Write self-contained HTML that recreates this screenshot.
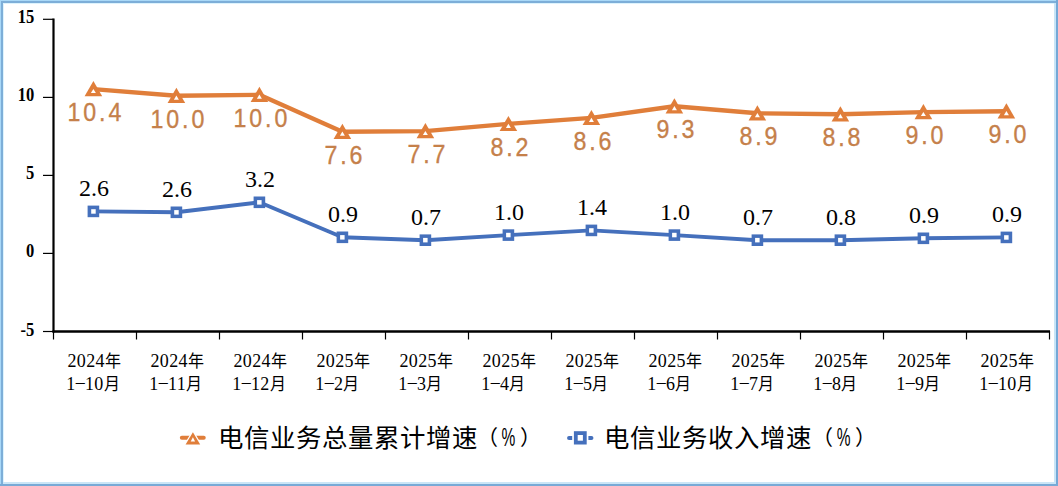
<!DOCTYPE html>
<html lang="zh-CN"><head><meta charset="utf-8">
<style>
html,body{margin:0;padding:0;background:#fff;}
body{width:1058px;height:486px;overflow:hidden;position:relative;}
svg{position:absolute;left:0;top:0;}
.yl{font-family:"Liberation Serif",serif;font-weight:bold;font-size:17.6px;text-anchor:end;fill:#000;}
.bl{font-family:"Liberation Serif",serif;font-size:24px;text-anchor:middle;fill:#000;}
.ol{font-family:"Liberation Sans",sans-serif;font-size:25.8px;text-anchor:middle;fill:#C5804A;letter-spacing:3.2px;stroke:#C5804A;stroke-width:0.35px;}
.xl{font-family:"Liberation Serif",serif;font-size:18px;letter-spacing:0.35px;fill:#000;font-weight:300;}
.xc{font-size:16px;}
.lg{font-family:"Liberation Sans",sans-serif;font-size:25.4px;fill:#000;font-weight:300;}
.lp{font-family:"Liberation Sans",sans-serif;font-size:21px;fill:#000;font-weight:300;}
.pc{font-family:"Liberation Sans",sans-serif;font-size:25px;fill:#000;font-weight:300;}
</style></head><body>
<svg width="1058" height="486" viewBox="0 0 1058 486">
<line x1="53.5" y1="18.5" x2="53.5" y2="332.5" stroke="#000" stroke-width="2.2"/>
<line x1="52.5" y1="331.5" x2="1050" y2="331.5" stroke="#000" stroke-width="2.4"/>
<line x1="43" y1="19.3" x2="53.5" y2="19.3" stroke="#000" stroke-width="1.2"/>
<text transform="translate(34.3,23.3) scale(0.94,1.08)" class="yl">15</text>
<line x1="43" y1="97.4" x2="53.5" y2="97.4" stroke="#000" stroke-width="1.2"/>
<text transform="translate(34.3,101.4) scale(0.94,1.08)" class="yl">10</text>
<line x1="43" y1="175.4" x2="53.5" y2="175.4" stroke="#000" stroke-width="1.2"/>
<text transform="translate(34.3,179.4) scale(0.94,1.08)" class="yl">5</text>
<line x1="43" y1="253.4" x2="53.5" y2="253.4" stroke="#000" stroke-width="1.2"/>
<text transform="translate(34.3,257.4) scale(0.94,1.08)" class="yl">0</text>
<line x1="43" y1="331.5" x2="53.5" y2="331.5" stroke="#000" stroke-width="1.2"/>
<text transform="translate(34.3,335.5) scale(0.94,1.08)" class="yl">-5</text>
<line x1="53.5" y1="331" x2="53.5" y2="339.5" stroke="#000" stroke-width="1.2"/>
<line x1="136.5" y1="331" x2="136.5" y2="339.5" stroke="#000" stroke-width="1.2"/>
<line x1="219.5" y1="331" x2="219.5" y2="339.5" stroke="#000" stroke-width="1.2"/>
<line x1="302.5" y1="331" x2="302.5" y2="339.5" stroke="#000" stroke-width="1.2"/>
<line x1="385.5" y1="331" x2="385.5" y2="339.5" stroke="#000" stroke-width="1.2"/>
<line x1="468.5" y1="331" x2="468.5" y2="339.5" stroke="#000" stroke-width="1.2"/>
<line x1="551.5" y1="331" x2="551.5" y2="339.5" stroke="#000" stroke-width="1.2"/>
<line x1="634.5" y1="331" x2="634.5" y2="339.5" stroke="#000" stroke-width="1.2"/>
<line x1="717.5" y1="331" x2="717.5" y2="339.5" stroke="#000" stroke-width="1.2"/>
<line x1="800.5" y1="331" x2="800.5" y2="339.5" stroke="#000" stroke-width="1.2"/>
<line x1="883.5" y1="331" x2="883.5" y2="339.5" stroke="#000" stroke-width="1.2"/>
<line x1="966.5" y1="331" x2="966.5" y2="339.5" stroke="#000" stroke-width="1.2"/>
<line x1="1049.5" y1="331" x2="1049.5" y2="339.5" stroke="#000" stroke-width="1.2"/>
<polyline points="93.4,89.1 176.4,95.8 259.4,94.8 342.4,131.8 425.4,131.1 508.4,123.9 591.4,117.9 674.4,106.3 757.4,113.3 840.4,114.2 923.4,112.1 1006.4,111.2" fill="none" stroke="#E07E3A" stroke-width="4.4" stroke-linejoin="round"/>
<polyline points="93.4,211.4 176.4,212.3 259.4,202.3 342.4,237.3 425.4,240.2 508.4,235.1 591.4,230.4 674.4,235.1 757.4,240.2 840.4,240.2 923.4,238.3 1006.4,237.4" fill="none" stroke="#4570BC" stroke-width="3.9" stroke-linejoin="round"/>
<path d="M93.4,81.1 L102.2,96.3 L84.6,96.3 Z" fill="#E07E3A" /><path d="M93.4,88.9 L95.9,93.1 L90.9,93.1 Z" fill="#fff"/>
<path d="M176.4,87.8 L185.2,103.0 L167.6,103.0 Z" fill="#E07E3A" /><path d="M176.4,95.6 L178.9,99.8 L173.9,99.8 Z" fill="#fff"/>
<path d="M259.4,86.8 L268.2,102.0 L250.6,102.0 Z" fill="#E07E3A" /><path d="M259.4,94.6 L261.9,98.8 L256.9,98.8 Z" fill="#fff"/>
<path d="M342.4,123.8 L351.2,139.0 L333.6,139.0 Z" fill="#E07E3A" /><path d="M342.4,131.6 L344.9,135.8 L339.9,135.8 Z" fill="#fff"/>
<path d="M425.4,123.1 L434.2,138.3 L416.6,138.3 Z" fill="#E07E3A" /><path d="M425.4,130.9 L427.9,135.1 L422.9,135.1 Z" fill="#fff"/>
<path d="M508.4,115.9 L517.2,131.1 L499.6,131.1 Z" fill="#E07E3A" /><path d="M508.4,123.7 L510.9,127.9 L505.9,127.9 Z" fill="#fff"/>
<path d="M591.4,109.9 L600.2,125.1 L582.6,125.1 Z" fill="#E07E3A" /><path d="M591.4,117.7 L593.9,121.9 L588.9,121.9 Z" fill="#fff"/>
<path d="M674.4,98.3 L683.2,113.5 L665.6,113.5 Z" fill="#E07E3A" /><path d="M674.4,106.1 L676.9,110.3 L671.9,110.3 Z" fill="#fff"/>
<path d="M757.4,105.3 L766.2,120.5 L748.6,120.5 Z" fill="#E07E3A" /><path d="M757.4,113.1 L759.9,117.3 L754.9,117.3 Z" fill="#fff"/>
<path d="M840.4,106.2 L849.2,121.4 L831.6,121.4 Z" fill="#E07E3A" /><path d="M840.4,114.0 L842.9,118.2 L837.9,118.2 Z" fill="#fff"/>
<path d="M923.4,104.1 L932.2,119.3 L914.6,119.3 Z" fill="#E07E3A" /><path d="M923.4,111.9 L925.9,116.1 L920.9,116.1 Z" fill="#fff"/>
<path d="M1006.4,103.2 L1015.2,118.4 L997.6,118.4 Z" fill="#E07E3A" /><path d="M1006.4,111.0 L1008.9,115.2 L1003.9,115.2 Z" fill="#fff"/>
<rect x="87.6" y="205.6" width="11.6" height="11.6" fill="#4570BC"/>
<rect x="91.2" y="209.2" width="4.5" height="4.5" fill="#fff"/>
<rect x="170.6" y="206.5" width="11.6" height="11.6" fill="#4570BC"/>
<rect x="174.2" y="210.1" width="4.5" height="4.5" fill="#fff"/>
<rect x="253.6" y="196.5" width="11.6" height="11.6" fill="#4570BC"/>
<rect x="257.1" y="200.1" width="4.5" height="4.5" fill="#fff"/>
<rect x="336.6" y="231.5" width="11.6" height="11.6" fill="#4570BC"/>
<rect x="340.1" y="235.1" width="4.5" height="4.5" fill="#fff"/>
<rect x="419.6" y="234.4" width="11.6" height="11.6" fill="#4570BC"/>
<rect x="423.1" y="237.9" width="4.5" height="4.5" fill="#fff"/>
<rect x="502.6" y="229.3" width="11.6" height="11.6" fill="#4570BC"/>
<rect x="506.1" y="232.8" width="4.5" height="4.5" fill="#fff"/>
<rect x="585.6" y="224.6" width="11.6" height="11.6" fill="#4570BC"/>
<rect x="589.1" y="228.2" width="4.5" height="4.5" fill="#fff"/>
<rect x="668.6" y="229.3" width="11.6" height="11.6" fill="#4570BC"/>
<rect x="672.1" y="232.8" width="4.5" height="4.5" fill="#fff"/>
<rect x="751.6" y="234.4" width="11.6" height="11.6" fill="#4570BC"/>
<rect x="755.1" y="237.9" width="4.5" height="4.5" fill="#fff"/>
<rect x="834.6" y="234.4" width="11.6" height="11.6" fill="#4570BC"/>
<rect x="838.1" y="237.9" width="4.5" height="4.5" fill="#fff"/>
<rect x="917.6" y="232.5" width="11.6" height="11.6" fill="#4570BC"/>
<rect x="921.1" y="236.1" width="4.5" height="4.5" fill="#fff"/>
<rect x="1000.6" y="231.6" width="11.6" height="11.6" fill="#4570BC"/>
<rect x="1004.1" y="235.2" width="4.5" height="4.5" fill="#fff"/>
<text transform="translate(94.4,121.0) scale(0.9,1)" x="1.6" y="0" class="ol">10.4</text>
<text transform="translate(177.4,127.7) scale(0.9,1)" x="1.6" y="0" class="ol">10.0</text>
<text transform="translate(260.4,126.7) scale(0.9,1)" x="1.6" y="0" class="ol">10.0</text>
<text transform="translate(343.4,163.7) scale(0.9,1)" x="1.6" y="0" class="ol">7.6</text>
<text transform="translate(426.4,163.0) scale(0.9,1)" x="1.6" y="0" class="ol">7.7</text>
<text transform="translate(509.4,155.8) scale(0.9,1)" x="1.6" y="0" class="ol">8.2</text>
<text transform="translate(592.4,149.8) scale(0.9,1)" x="1.6" y="0" class="ol">8.6</text>
<text transform="translate(675.4,138.2) scale(0.9,1)" x="1.6" y="0" class="ol">9.3</text>
<text transform="translate(758.4,145.2) scale(0.9,1)" x="1.6" y="0" class="ol">8.9</text>
<text transform="translate(841.4,146.1) scale(0.9,1)" x="1.6" y="0" class="ol">8.8</text>
<text transform="translate(924.4,144.0) scale(0.9,1)" x="1.6" y="0" class="ol">9.0</text>
<text transform="translate(1007.4,143.1) scale(0.9,1)" x="1.6" y="0" class="ol">9.0</text>
<text x="94.1" y="195.8" class="bl">2.6</text>
<text x="177.1" y="196.7" class="bl">2.6</text>
<text x="260.1" y="186.7" class="bl">3.2</text>
<text x="343.1" y="221.7" class="bl">0.9</text>
<text x="426.1" y="224.6" class="bl">0.7</text>
<text x="509.1" y="219.5" class="bl">1.0</text>
<text x="592.1" y="214.8" class="bl">1.4</text>
<text x="675.1" y="219.5" class="bl">1.0</text>
<text x="758.1" y="224.6" class="bl">0.7</text>
<text x="841.1" y="224.6" class="bl">0.8</text>
<text x="924.1" y="222.7" class="bl">0.9</text>
<text x="1007.1" y="221.8" class="bl">0.9</text>
<text transform="translate(67.5,367.3) scale(1,1.05)" class="xl">2024<tspan class="xc">年</tspan></text>
<text transform="translate(66.3,389.8) scale(1,1.05)" class="xl">1<tspan dy="-1.6">‒</tspan><tspan dy="1.6">10</tspan><tspan class="xc">月</tspan></text>
<text transform="translate(150.5,367.3) scale(1,1.05)" class="xl">2024<tspan class="xc">年</tspan></text>
<text transform="translate(149.3,389.8) scale(1,1.05)" class="xl">1<tspan dy="-1.6">‒</tspan><tspan dy="1.6">11</tspan><tspan class="xc">月</tspan></text>
<text transform="translate(233.5,367.3) scale(1,1.05)" class="xl">2024<tspan class="xc">年</tspan></text>
<text transform="translate(232.3,389.8) scale(1,1.05)" class="xl">1<tspan dy="-1.6">‒</tspan><tspan dy="1.6">12</tspan><tspan class="xc">月</tspan></text>
<text transform="translate(316.5,367.3) scale(1,1.05)" class="xl">2025<tspan class="xc">年</tspan></text>
<text transform="translate(315.3,389.8) scale(1,1.05)" class="xl">1<tspan dy="-1.6">‒</tspan><tspan dy="1.6">2</tspan><tspan class="xc">月</tspan></text>
<text transform="translate(399.5,367.3) scale(1,1.05)" class="xl">2025<tspan class="xc">年</tspan></text>
<text transform="translate(398.3,389.8) scale(1,1.05)" class="xl">1<tspan dy="-1.6">‒</tspan><tspan dy="1.6">3</tspan><tspan class="xc">月</tspan></text>
<text transform="translate(482.5,367.3) scale(1,1.05)" class="xl">2025<tspan class="xc">年</tspan></text>
<text transform="translate(481.3,389.8) scale(1,1.05)" class="xl">1<tspan dy="-1.6">‒</tspan><tspan dy="1.6">4</tspan><tspan class="xc">月</tspan></text>
<text transform="translate(565.5,367.3) scale(1,1.05)" class="xl">2025<tspan class="xc">年</tspan></text>
<text transform="translate(564.3,389.8) scale(1,1.05)" class="xl">1<tspan dy="-1.6">‒</tspan><tspan dy="1.6">5</tspan><tspan class="xc">月</tspan></text>
<text transform="translate(648.5,367.3) scale(1,1.05)" class="xl">2025<tspan class="xc">年</tspan></text>
<text transform="translate(647.3,389.8) scale(1,1.05)" class="xl">1<tspan dy="-1.6">‒</tspan><tspan dy="1.6">6</tspan><tspan class="xc">月</tspan></text>
<text transform="translate(731.5,367.3) scale(1,1.05)" class="xl">2025<tspan class="xc">年</tspan></text>
<text transform="translate(730.3,389.8) scale(1,1.05)" class="xl">1<tspan dy="-1.6">‒</tspan><tspan dy="1.6">7</tspan><tspan class="xc">月</tspan></text>
<text transform="translate(814.5,367.3) scale(1,1.05)" class="xl">2025<tspan class="xc">年</tspan></text>
<text transform="translate(813.3,389.8) scale(1,1.05)" class="xl">1<tspan dy="-1.6">‒</tspan><tspan dy="1.6">8</tspan><tspan class="xc">月</tspan></text>
<text transform="translate(897.5,367.3) scale(1,1.05)" class="xl">2025<tspan class="xc">年</tspan></text>
<text transform="translate(896.3,389.8) scale(1,1.05)" class="xl">1<tspan dy="-1.6">‒</tspan><tspan dy="1.6">9</tspan><tspan class="xc">月</tspan></text>
<text transform="translate(980.5,367.3) scale(1,1.05)" class="xl">2025<tspan class="xc">年</tspan></text>
<text transform="translate(979.3,389.8) scale(1,1.05)" class="xl">1<tspan dy="-1.6">‒</tspan><tspan dy="1.6">10</tspan><tspan class="xc">月</tspan></text>
<line x1="181.8" y1="437.7" x2="203.8" y2="437.7" stroke="#E07E3A" stroke-width="3.9" stroke-linecap="round"/>
<path d="M192.9,432.2 L200.2,444.5 L185.6,444.5 Z" fill="#E07E3A" stroke="#fff" stroke-width="2.4" paint-order="stroke" stroke-linejoin="miter"/>
<path d="M192.9,437.3 L195.1,441.6 L190.7,441.6 Z" fill="#fff"/>
<text x="217.5 243.5 269.5 295.5 321.5 347.5 373.5 399.5 425.5 451.5" y="446.5" class="lg">电信业务总量累计增速</text>
<text x="477.0" y="445.0" class="lp">（</text>
<text transform="translate(501.5,446.0) scale(0.62,1)" class="pc">%</text>
<text x="520.0" y="445.0" class="lp">）</text>
<line x1="569" y1="438" x2="591.5" y2="438" stroke="#4570BC" stroke-width="3.9" stroke-linecap="round"/>
<rect x="573.9" y="431.2" width="12.8" height="13.3" fill="#4570BC" stroke="#fff" stroke-width="3.4" paint-order="stroke"/>
<rect x="577.7" y="435" width="5.2" height="5.7" fill="#fff"/>
<text x="603.5 629.5 655.5 681.5 707.5 733.5 759.5 785.5" y="446.5" class="lg">电信业务收入增速</text>
<text x="812.2" y="445.0" class="lp">（</text>
<text transform="translate(836.7,446.0) scale(0.62,1)" class="pc">%</text>
<text x="855.2" y="445.0" class="lp">）</text>
</svg>
<div style="position:absolute;left:0;top:0;width:1058px;height:1px;background:#A9D8F7"></div>
<div style="position:absolute;left:0;top:0;width:1px;height:486px;background:#A9D8F7"></div>
<div style="position:absolute;left:1px;top:1px;width:1057px;height:1.5px;background:#7DAED8"></div>
<div style="position:absolute;left:1px;top:1px;width:1.5px;height:485px;background:#7DAED8"></div>
<div style="position:absolute;left:2.5px;top:2.5px;width:1054px;height:1px;background:#DDF3FD"></div>
<div style="position:absolute;left:2.5px;top:2.5px;width:1px;height:481px;background:#DDF3FD"></div>
<div style="position:absolute;left:1054px;top:2.5px;width:2px;height:481px;background:#C8E5F7"></div>
<div style="position:absolute;left:2.5px;top:482px;width:1053px;height:1.5px;background:#CBE6F7"></div>
<div style="position:absolute;left:1056px;top:0;width:2px;height:486px;background:#74A8D6"></div>
<div style="position:absolute;left:0;top:483.5px;width:1058px;height:2.5px;background:#78AAD6"></div>
</body></html>
